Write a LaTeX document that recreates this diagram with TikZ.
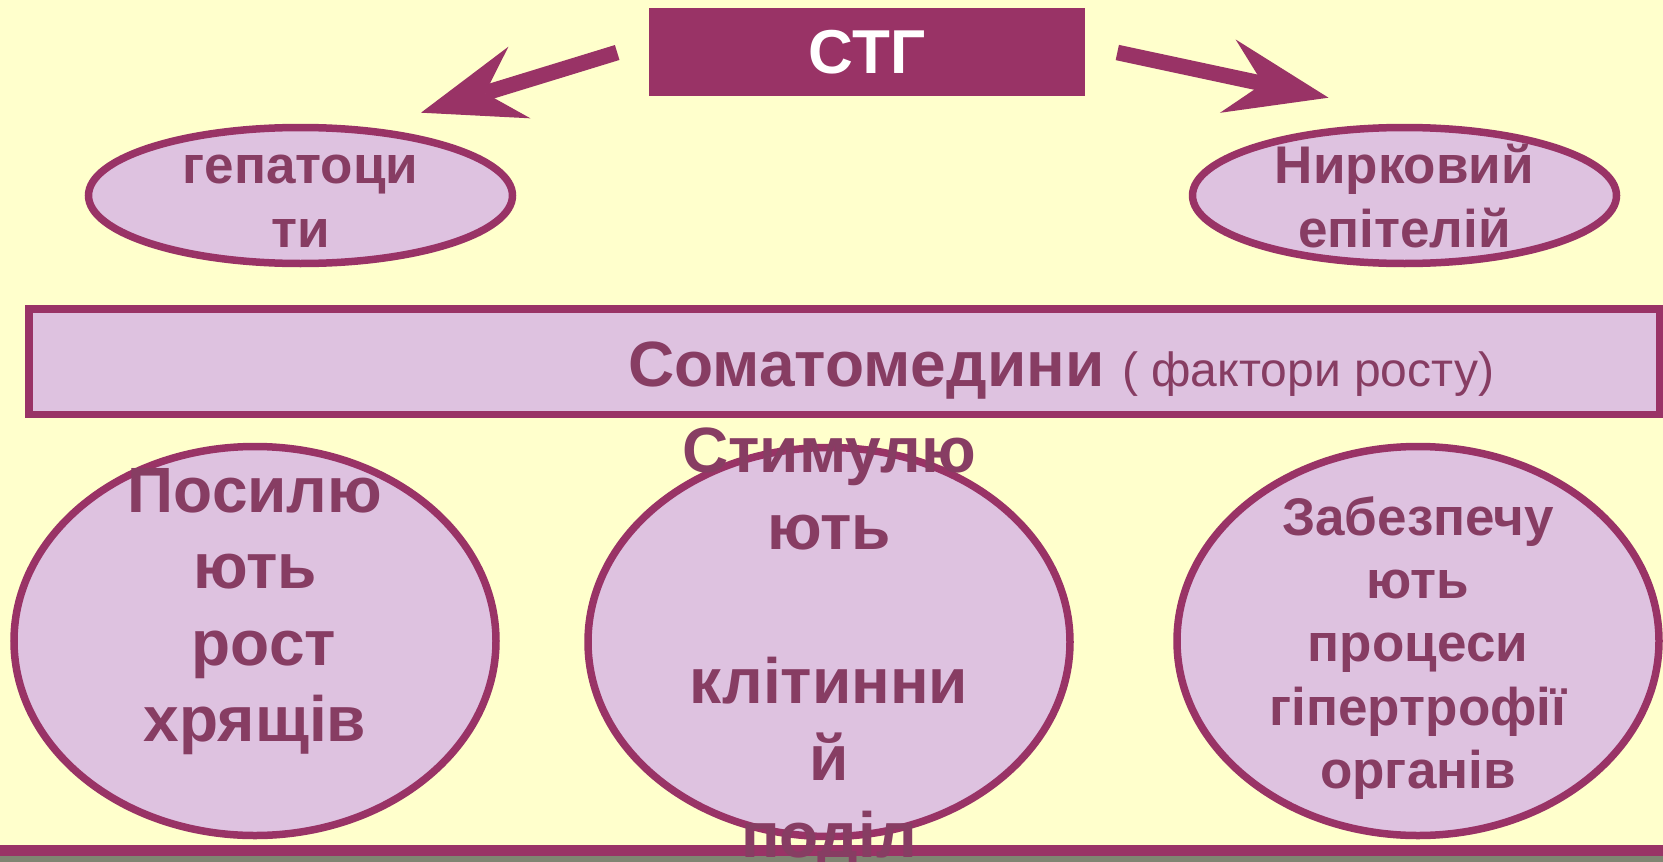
\documentclass[tikz,border=0pt]{standalone}
\usepackage{fontspec}
\setmainfont{Liberation Sans}
\usetikzlibrary{arrows.meta,shapes.geometric}

\definecolor{paper}{HTML}{FFFFCC}
\definecolor{plum}{HTML}{993366}
\definecolor{lilac}{HTML}{DEC2E0}
\definecolor{mauve}{HTML}{873D63}
\definecolor{footgray}{HTML}{7F8572}

\begin{document}
\begin{tikzpicture}[x=1pt,y=-1pt,
  bubble/.style={ellipse, draw=plum, fill=lilac, line width=7.5pt, inner sep=0pt},
  bigtxt/.style={text=mauve, font=\fontsize{64}{77}\selectfont\bfseries, anchor=base, inner sep=0pt},
  midtxt/.style={text=mauve, font=\fontsize{53}{64}\selectfont\bfseries, anchor=base, inner sep=0pt},
  link/.style={draw=plum, line width=15.6pt,
    -{Stealth[length=103pt, width=75pt, inset=36pt, line width=0pt]}}
]
\useasboundingbox (0,0) rectangle (1663,862);
\fill[paper] (0,0) rectangle (1663,862);

% footer band
\fill[plum] (0,845) rectangle (1663,856);
\fill[footgray] (0,856) rectangle (1663,862);

% hormone box
\node[fill=plum, minimum width=436pt, minimum height=88pt, inner sep=0pt,
      text=white, font=\fontsize{62}{74}\selectfont\bfseries] (stg) at (867,52) {СТГ};

% target tissues
\node[bubble, minimum width=424pt, minimum height=136pt] (hep) at (300.5,195.5) {};
\node[bubble, minimum width=424pt, minimum height=136pt] (kid) at (1404.5,195.5) {};
\node[midtxt] (hep-1) at (300.5,183) {гепатоци};
\node[midtxt] (hep-2) at (300.5,247) {ти};
\node[midtxt] (kid-1) at (1404.5,183) {Нирковий};
\node[midtxt] (kid-2) at (1404.5,247) {епітелій};

% arrows from the hormone
\coordinate (lt) at (617.2,52.5);
\coordinate (lh) at (421,112.7);
\coordinate (rt) at (1117.3,52.5);
\coordinate (rh) at (1328.5,97.7);
\draw[link] (lt) -- (lh);
\draw[link] (rt) -- (rh);

% somatomedins bar
\node[draw=plum, fill=lilac, line width=7.5pt, minimum width=1630.5pt,
      minimum height=105.5pt, inner sep=0pt] (soma) at (844.25,361.75) {};
\node[anchor=base west, text=mauve, inner sep=0pt] (somatxt) at (628,386)
  {{\fontsize{64}{77}\selectfont\bfseries Соматомедини }{\fontsize{48}{58}\selectfont ( фактори росту)}};

% effects
\node[bubble, minimum width=482pt, minimum height=389pt] (grow) at (255,641) {};
\node[bubble, minimum width=482pt, minimum height=389pt] (divide) at (829,642) {};
\node[bubble, minimum width=482pt, minimum height=389pt] (hyper) at (1418,641) {};

\node[bigtxt] (grow-1) at (255,512) {Посилю};
\node[bigtxt] (grow-2) at (255,588.5) {ють};
\node[bigtxt] (grow-3) at (264,665) {рост};
\node[bigtxt] (grow-4) at (255,741.5) {хрящів};

\node[bigtxt] (divide-1) at (829,472) {Стимулю};
\node[bigtxt] (divide-2) at (829,549) {ють};
\node[bigtxt] (divide-3) at (829,703) {клітинни};
\node[bigtxt] (divide-4) at (829,780) {й};
\node[bigtxt] (divide-5) at (829,857) {поділ};

\node[midtxt] (hyper-1) at (1418,535) {Забезпечу};
\node[midtxt] (hyper-2) at (1418,598.4) {ють};
\node[midtxt] (hyper-3) at (1418,661.8) {процеси};
\node[midtxt] (hyper-4) at (1418,725.2) {гіпертрофії};
\node[midtxt] (hyper-5) at (1418,788.6) {органів};
\end{tikzpicture}
\end{document}
